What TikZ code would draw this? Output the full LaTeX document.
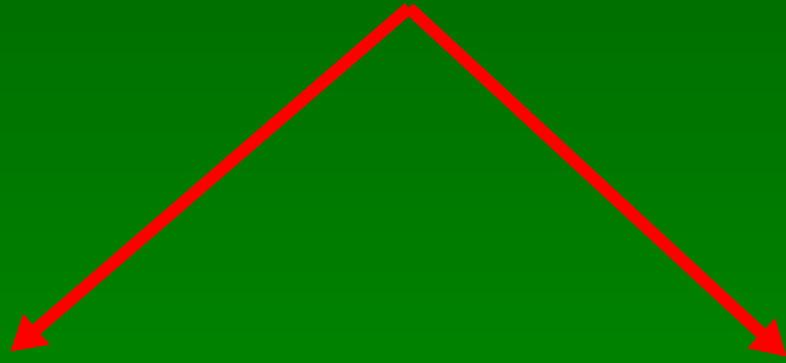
\documentclass[tikz,border=0pt]{standalone}
\usetikzlibrary{arrows.meta}
\definecolor{bgtop}{RGB}{0,112,0}
\definecolor{bgbot}{RGB}{0,130,0}
\definecolor{arrowred}{RGB}{255,0,0}
\tikzset{
  redarrow/.style={draw=arrowred, line width=12.5pt, -{Triangle[length=35pt,width=38pt]}}
}
\begin{document}
\begin{tikzpicture}[x=1pt,y=1pt]
  \useasboundingbox (0,0) rectangle (786,362);
  \shade[top color=bgtop, bottom color=bgbot] (0,0) rectangle (786,362);
  \coordinate (apex) at (409,354);
  \coordinate (left) at (10,10);
  \coordinate (right) at (787,5);
  \draw[redarrow] (apex) -- (left);
  \draw[redarrow] (apex) -- (right);
\end{tikzpicture}
\end{document}
